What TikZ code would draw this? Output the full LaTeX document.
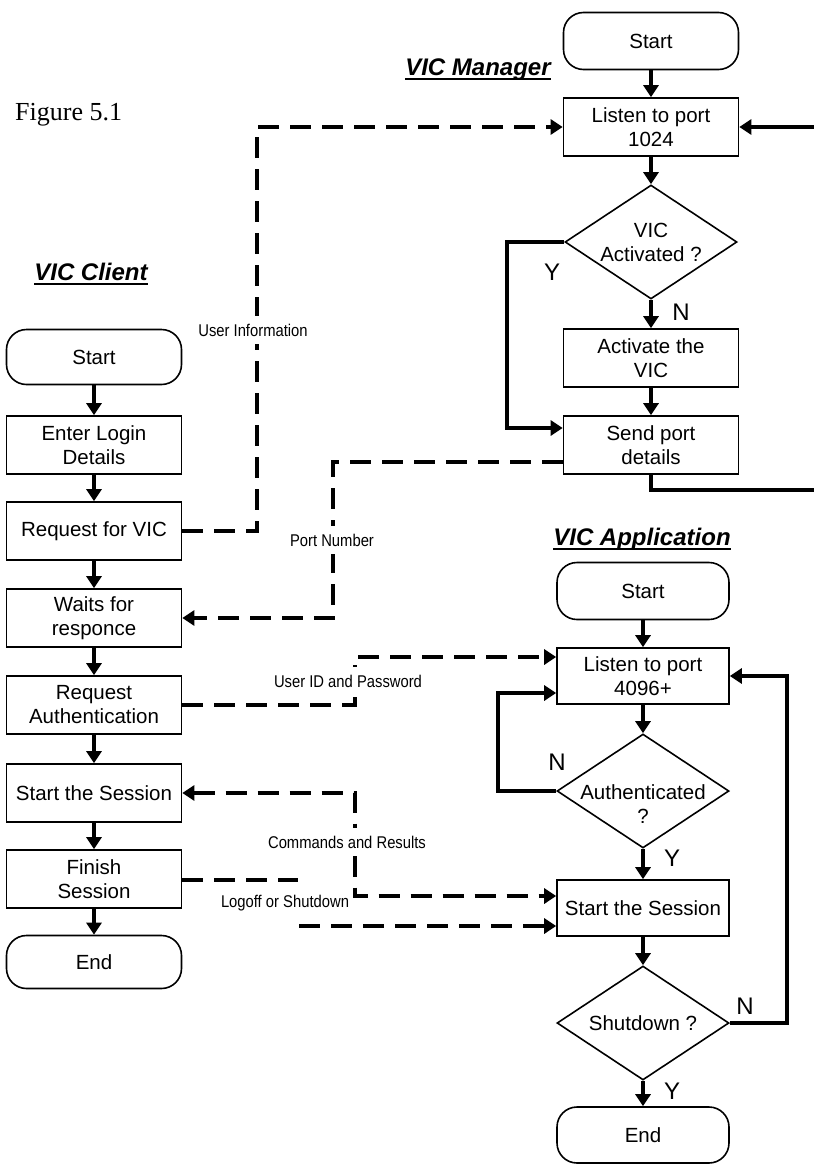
\documentclass[tikz,border=0pt]{standalone}
\usepackage{fontspec}
\setmainfont{Liberation Sans}
\newfontfamily\capfont{Liberation Serif}
\newfontfamily\notefont[FakeStretch=0.87]{Liberation Sans}
\usetikzlibrary{arrows.meta,shapes.geometric}

\tikzset{
  boxtext/.style={align=center, font=\fontsize{20.5}{24}\selectfont},
  box/.style={boxtext, draw, line width=1.6pt, minimum width=175pt, minimum height=58pt, inner sep=0pt},
  term/.style={box, rounded corners=20pt},
  decision/.style={diamond, draw, line width=1.6pt, minimum width=172pt, minimum height=114pt, inner sep=0pt},
  dtext/.style={boxtext, inner sep=0pt},
  tip/.tip={Triangle[length=12pt,width=15pt]},
  plain/.style={line width=4pt},
  flow/.style={plain, -tip},
  dashline/.style={line width=4pt, dash pattern=on 21pt off 11pt},
  msg/.style={dashline, -tip},
  note/.style={font=\notefont\fontsize{17}{20}\selectfont, fill=white, inner xsep=2pt, inner ysep=8pt},
  yn/.style={font=\fontsize{24}{28}\selectfont, inner sep=0pt},
  title/.style={font=\fontsize{24}{28}\selectfont\bfseries\itshape, inner sep=0pt, anchor=base},
  ul/.style={line width=2pt},
}

\begin{document}
\begin{tikzpicture}[x=1pt,y=-1pt]
\useasboundingbox (0,0) rectangle (814,1165);

% caption and column titles
\node[anchor=base west, inner sep=0pt, font=\capfont\fontsize{26}{30}\selectfont] (fig) at (15,120) {Figure 5.1};
\node[title] (tman) at (478,75) {VIC Manager};
\draw[ul] ([yshift=-4pt]tman.base west) -- ([yshift=-4pt]tman.base east);
\node[title] (tcli) at (91,280) {VIC Client};
\draw[ul] ([yshift=-4pt]tcli.base west) -- ([yshift=-4pt]tcli.base east);
\node[title] (tapp) at (642,545) {VIC Application};
\draw[ul] ([yshift=-4pt]tapp.base west) -- ([yshift=-4pt]tapp.base east);

% ---------------- manager ----------------
\node[term, minimum height=57pt] (mstart) at (651,41) {Start};
\node[box] (mlisten) at (651,127) {Listen to port\\1024};
\node[decision, label={[dtext]center:VIC\\Activated ?}] (mdec) at (651,242) {};
\node[box] (mact) at (651,358) {Activate the\\VIC};
\node[box] (msend) at (651,445) {Send port\\details};

\draw[flow] (mstart) -- (mlisten);
\draw[flow] (mlisten) -- (mdec);
\draw[flow] (mdec) -- (mact);
\draw[flow] (mact) -- (msend);
\node[yn] (mn) at (681,312) {N};
\node[yn] (my) at (552,272) {Y};

\coordinate (mybend) at (507,428);
\draw[flow] (mdec.west) -| (mybend) -- (mybend -| msend.west);
\coordinate (mout) at (820,490);
\draw[plain] (msend.south) |- (mout);
\coordinate (min) at (820,127);
\draw[flow] (min) -- (mlisten.east);

% ---------------- client ----------------
\node[term, minimum height=55pt] (cstart) at (94,357) {Start};
\node[box] (clogin) at (94,445) {Enter Login\\Details};
\node[box] (creq) at (94,531) {Request for VIC};
\node[box] (cwait) at (94,618) {Waits for\\responce};
\node[box] (cauth) at (94,705) {Request\\Authentication};
\node[box] (csess) at (94,793) {Start the Session};
\node[box] (cfin) at (94,879) {Finish\\Session};
\node[term, minimum height=53pt] (cend) at (94,962) {End};

\draw[flow] (cstart) -- (clogin);
\draw[flow] (clogin) -- (creq);
\draw[flow] (creq) -- (cwait);
\draw[flow] (cwait) -- (cauth);
\draw[flow] (cauth) -- (csess);
\draw[flow] (csess) -- (cfin);
\draw[flow] (cfin) -- (cend);

% ---------------- application ----------------
\node[term, minimum width=172pt, minimum height=57pt] (astart) at (643,591) {Start};
\node[box, minimum width=172pt, minimum height=56pt] (alisten) at (643,676) {Listen to port\\4096+};
\node[decision, label={[dtext, yshift=-13pt]center:Authenticated\\?}] (adec) at (643,791) {};
\node[box, minimum width=172pt, minimum height=56pt] (asess) at (643,908) {Start the Session};
\node[decision] (adec2) at (643,1023) {};
\node[dtext] (adec2t) at (adec2) {Shutdown ?};
\node[term, minimum width=172pt, minimum height=56pt] (aend) at (643,1135) {End};

\draw[flow] (astart) -- (alisten);
\draw[flow] (alisten) -- (adec);
\draw[flow] (adec) -- (asess);
\draw[flow] (asess) -- (adec2);
\draw[flow] (adec2) -- (aend);
\node[yn] (an1) at (557,762) {N};
\node[yn] (ay1) at (672,858) {Y};
\node[yn] (an2) at (745,1006) {N};
\node[yn] (ay2) at (672,1091) {Y};

\coordinate (aloop) at (498,693);
\draw[flow] (adec.west) -| (aloop) -- (aloop -| alisten.west);
\coordinate (aback) at (787,676);
\draw[flow] (adec2.east) -| (aback) -- (alisten.east);

% ---------------- messages between programs ----------------
\coordinate (uib) at (257,127);
\draw[msg] (creq.east) -| (uib) -- (mlisten.west);
\node[note] (nui) at (253,330) {User Information};

\coordinate (pnb) at (333,462);
\draw[msg] (pnb -| msend.west) -- (pnb) |- (cwait.east);
\node[note] (npn) at (332,540) {Port Number};

\coordinate (uidb) at (355,657);
\draw[msg] (cauth.east) -| (uidb) -- (uidb -| alisten.west);
\node[note] (nuid) at (348,681) {User ID and Password};

\coordinate (cmdb) at (355,896);
\draw[msg, tip-tip] (csess.east) -| (cmdb) -- (cmdb -| asess.west);
\node[note] (ncmd) at (347,842) {Commands and Results};

\coordinate (lo1) at (298,880);
\coordinate (lo2) at (299,926);
\draw[dashline] (cfin.east |- lo1) -- (lo1);
\draw[msg] (lo2) -- (lo2 -| asess.west);
\node[note, fill=none] (nlo) at (285,903) {Logoff or Shutdown};
\end{tikzpicture}
\end{document}
